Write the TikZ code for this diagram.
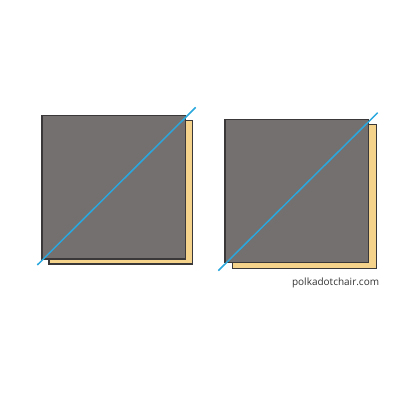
\documentclass[tikz,border=0pt]{standalone}
\usepackage{fontspec}
\setmainfont{Open Sans}
\definecolor{sqgray}{HTML}{747070}
\definecolor{sqyellow}{HTML}{F5D38A}
\definecolor{edge}{HTML}{3A3838}
\definecolor{cut}{HTML}{2AA8DE}
\definecolor{label}{HTML}{333333}
\tikzset{
  back/.style={fill=sqyellow,draw=edge,line width=1.5pt},
  front/.style={fill=sqgray,draw=edge,line width=1.5pt},
  cutline/.style={draw=cut,line width=1.5pt}
}
\begin{document}
\begin{tikzpicture}[x=1pt,y=-1pt]
\useasboundingbox[fill=white] (0,0) rectangle (400,400);
% left pair
\path[back] (49,120.7) rectangle (192.7,264);
\path[front] (42,115.7) rectangle (185.7,259);
\draw[cutline] (37.3,265) -- (195.7,107.3);
% right pair
\path[back] (232.7,124.7) rectangle (376.7,268.7);
\path[front] (225,119.3) rectangle (368.7,262.7);
\draw[cutline] (218.3,270.7) -- (377.7,112.7);
\node[anchor=east,inner sep=0pt,text=label,font=\fontsize{10}{11}\selectfont] (brand) at (379.3,283) {polkadotchair.com};
\end{tikzpicture}
\end{document}
